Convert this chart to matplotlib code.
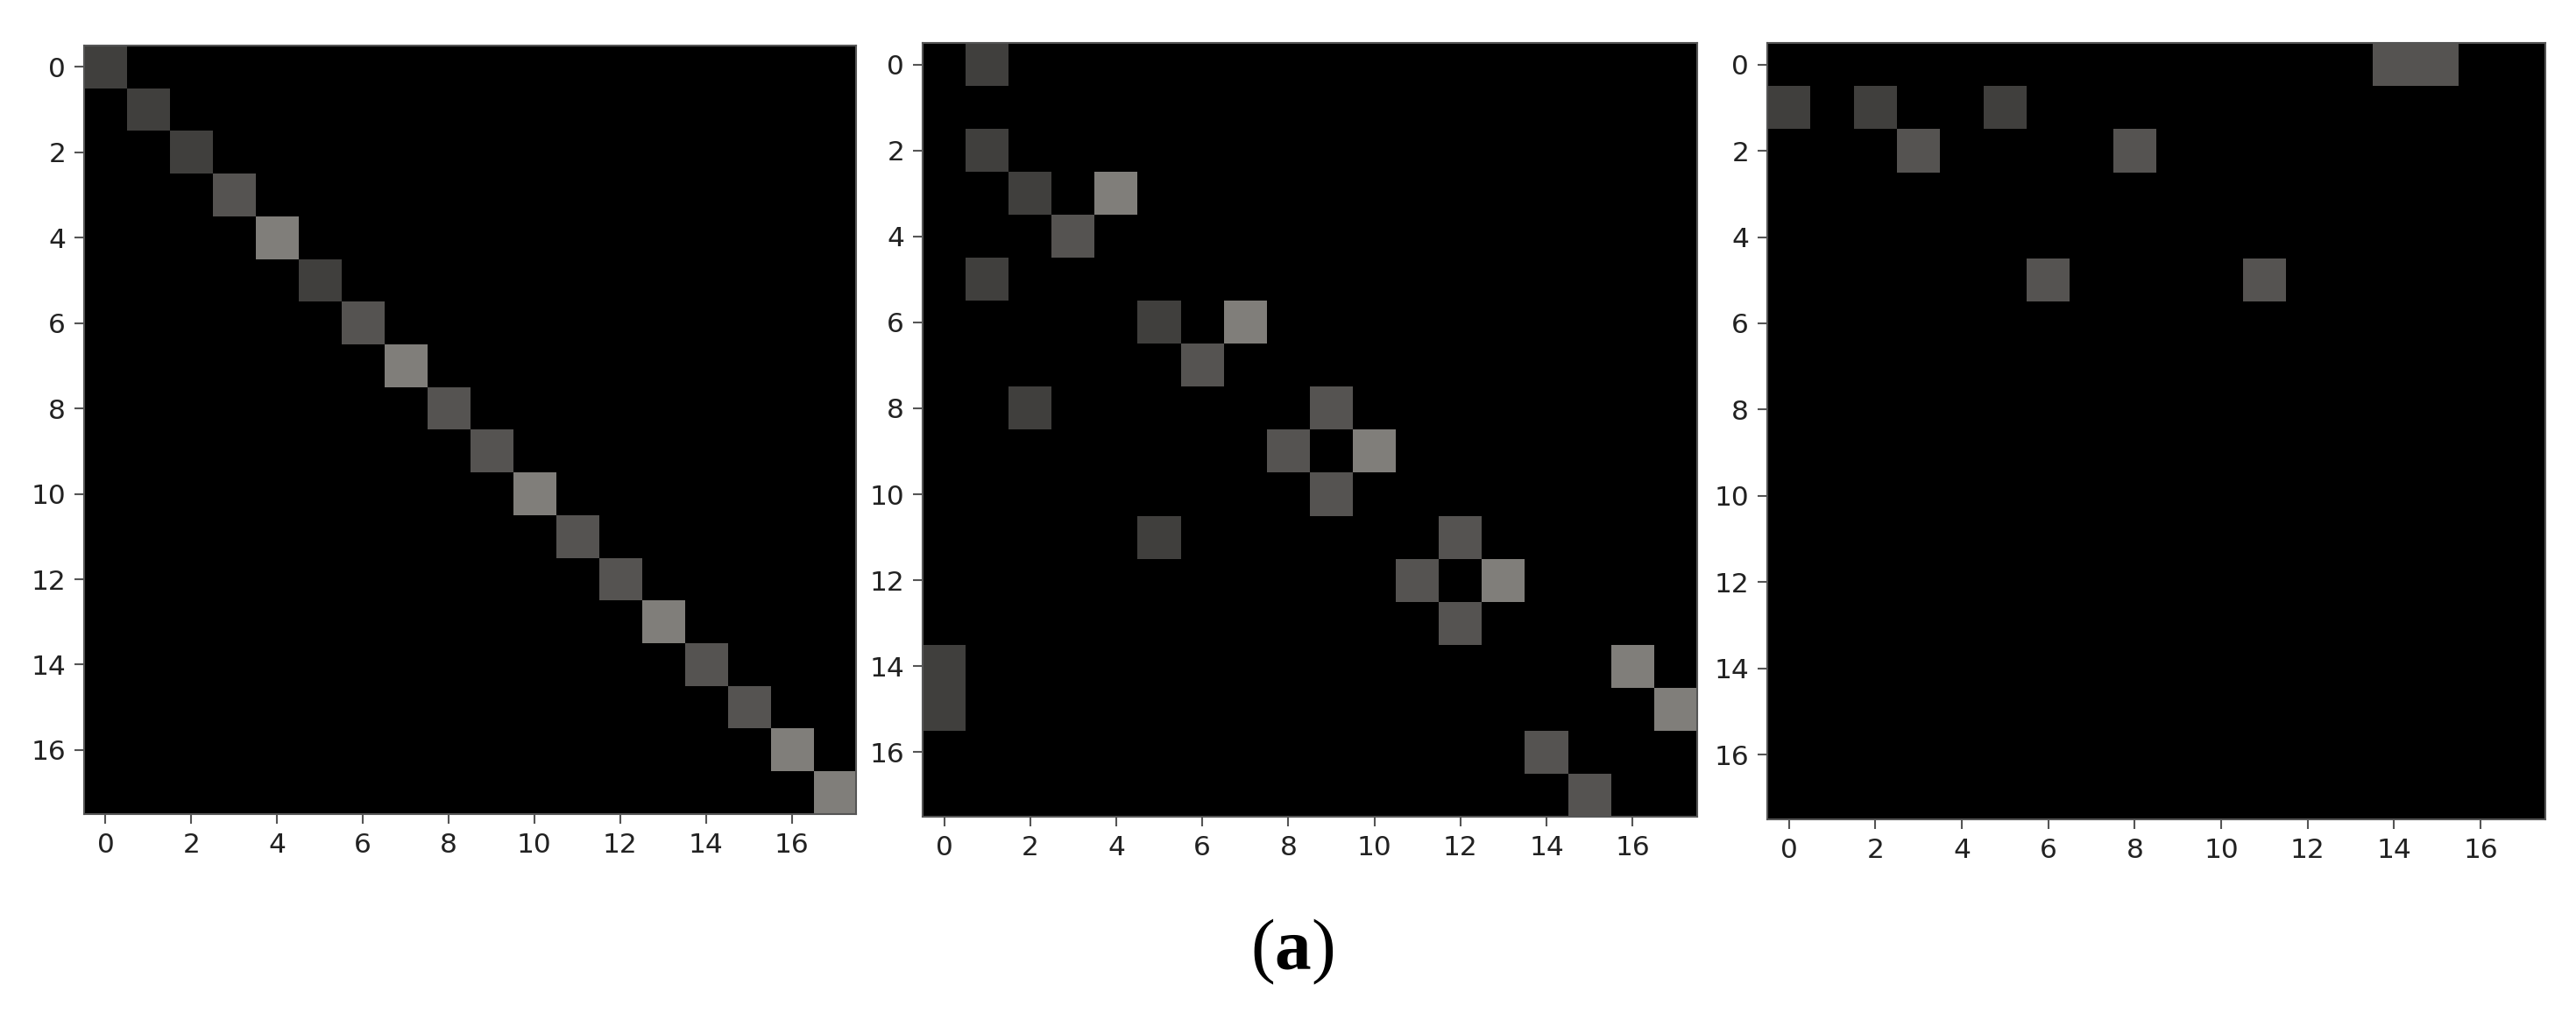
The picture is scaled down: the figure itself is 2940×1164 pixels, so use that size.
import numpy as np
import matplotlib
matplotlib.use("Agg")
import matplotlib.pyplot as plt
from matplotlib.colors import LinearSegmentedColormap

plt.rcParams['mathtext.fontset'] = 'custom'
plt.rcParams['mathtext.rm'] = 'Liberation Serif'
plt.rcParams['mathtext.bf'] = 'Liberation Serif:bold'

N = 18
D, M, L = 0.25, 1 / 3, 0.5  # cell intensity levels

# Panel 1: diagonal matrix values
diag_vals = [D, D, D, M, L, D, M, L, M, M, L, M, M, L, M, M, L, L]

# Panel 2: sparse entries (row, col, value)
p2_rows = [0, 2, 3, 3, 4, 5, 6, 6, 7, 8, 8, 9, 9, 10, 11, 11, 12, 12, 13, 14, 15, 14, 15, 16, 17]
p2_cols = [1, 1, 2, 4, 3, 1, 5, 7, 6, 2, 9, 8, 10, 9, 5, 12, 11, 13, 12, 0, 0, 16, 17, 14, 15]
p2_vals = [D, D, D, L, M, D, D, L, M, D, M, M, L, M, D, M, M, L, M, D, D, L, L, M, M]

# Panel 3: sparse entries
p3_rows = [0, 0, 1, 1, 1, 2, 2, 5, 5]
p3_cols = [14, 15, 0, 2, 5, 3, 8, 6, 11]
p3_vals = [M, M, D, D, D, M, M, M, M]

ticks = list(range(0, 17, 2))
tick_labels = [str(t) for t in ticks]

m1 = np.diag(diag_vals)
m2 = np.zeros((N, N)); m2[p2_rows, p2_cols] = p2_vals
m3 = np.zeros((N, N)); m3[p3_rows, p3_cols] = p3_vals

cmap = LinearSegmentedColormap.from_list('warmgray', [(0, 0, 0), (1.0, 0.985, 0.955)])

W, H = 2940, 1164
fig = plt.figure(figsize=(W / 100, H / 100), dpi=100)
fig.patch.set_facecolor('white')

boxes = [(96, 52, 977, 929), (1053, 49, 1937, 932), (2017, 49, 2905, 935)]
for (x0, y0, x1, y1), mat in zip(boxes, [m1, m2, m3]):
    ax = fig.add_axes([x0 / W, 1 - y1 / H, (x1 - x0) / W, (y1 - y0) / H])
    ax.imshow(mat, cmap=cmap, vmin=0, vmax=1, aspect='auto', interpolation='nearest')
    ax.set_xticks(ticks)
    ax.set_yticks(ticks)
    ax.set_xticklabels(tick_labels)
    ax.set_yticklabels(tick_labels)
    ax.tick_params(labelsize=22.5, length=8, width=1.5, pad=7, colors='#555555', labelcolor='#222222')
    for s in ax.spines.values():
        s.set_color('#555555')
        s.set_linewidth(1.5)

fig.text(1475 / W, 1 - 1086 / H, r'($\mathbf{a}$)', family='Liberation Serif',
         fontsize=60, ha='center', va='center', color='black')

fig.savefig('out.png', dpi=100, facecolor='white')
